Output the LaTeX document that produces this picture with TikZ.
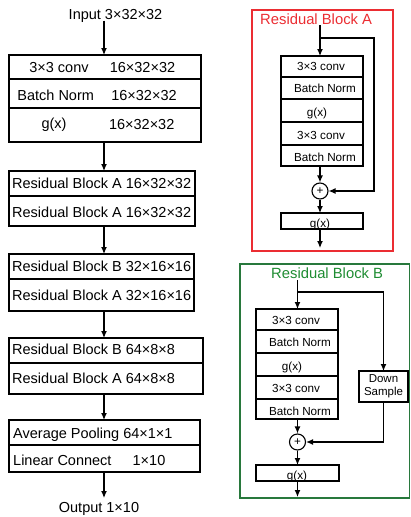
\documentclass[tikz,border=0pt]{standalone}
\usepackage{fontspec}
\setmainfont{Liberation Sans}
\usetikzlibrary{arrows.meta}
\definecolor{redA}{RGB}{235,45,50}
\definecolor{greenB}{RGB}{30,140,50}
\definecolor{greenF}{RGB}{40,120,60}
\newcommand{\bigf}{\fontsize{14.5}{17}\selectfont}
\newcommand{\smallf}{\fontsize{11.7}{13.2}\selectfont}
\newcommand{\titlef}{\fontsize{14.8}{17}\selectfont}
\begin{document}
\begin{tikzpicture}[x=1pt,y=-1pt,
  rowbox/.style={draw, line width=1.2pt, inner sep=0pt, outer sep=0pt, anchor=north west},
  lbl/.style={inner sep=0pt, anchor=base, font=\bigf},
  lbll/.style={inner sep=0pt, anchor=base west, font=\bigf},
  slbl/.style={inner sep=0pt, anchor=base, font=\smallf},
  arr/.style={line width=1.2pt, -{Latex[length=7pt,width=6pt]}},
  plusnode/.style={draw, circle, line width=1.1pt, minimum size=16pt, inner sep=0pt, font=\smallf},
]
\useasboundingbox (0,0) rectangle (411,517);

% ---------------- left column ----------------
\coordinate (colx) at (104,0);
\node[lbl] (inp) at (115.5,19.5) {Input 3×32×32};

\node[rowbox, minimum width=192pt, minimum height=24pt] (c1) at (9,55) {};
\node[rowbox, minimum width=192pt, minimum height=29pt] (c2) at (9,79) {};
\node[rowbox, minimum width=192pt, minimum height=34pt] (c3) at (9,108) {};
\node[lbl] (c1a) at (59,72) {3×3 conv};
\node[lbl] (c1b) at (142.5,72) {16×32×32};
\node[lbl] (c2a) at (55.7,100) {Batch Norm};
\node[lbl] (c2b) at (144,100) {16×32×32};
\node[lbl] (c3a) at (54,128.5) {g(x)};
\node[lbl] (c3b) at (141.7,129) {16×32×32};

\node[rowbox, minimum width=186pt, minimum height=25pt] (r1) at (9,171) {};
\node[rowbox, minimum width=186pt, minimum height=30pt] (r2) at (9,196) {};
\node[lbll] (r1t) at (12,188) {Residual Block A 16×32×32};
\node[lbll] (r2t) at (12,217) {Residual Block A 16×32×32};

\node[rowbox, minimum width=185pt, minimum height=25pt] (r3) at (9,254) {};
\node[rowbox, minimum width=185pt, minimum height=32pt] (r4) at (9,279) {};
\node[lbll] (r3t) at (12,271) {Residual Block B 32×16×16};
\node[lbll] (r4t) at (12,300) {Residual Block A 32×16×16};

\node[rowbox, minimum width=194pt, minimum height=25pt] (r5) at (9,338) {};
\node[rowbox, minimum width=194pt, minimum height=31pt] (r6) at (9,363) {};
\node[lbll] (r5t) at (12,354) {Residual Block B 64×8×8};
\node[lbll] (r6t) at (12,383) {Residual Block A 64×8×8};

\node[rowbox, minimum width=191pt, minimum height=25pt] (p1) at (9,420) {};
\node[rowbox, minimum width=191pt, minimum height=27pt] (p2) at (9,445) {};
\node[lbll] (p1t) at (13,438) {Average Pooling 64×1×1};
\node[lbll] (p2t) at (13,465) {Linear Connect};
\node[lbl] (p2b) at (149,465) {1×10};

\node[lbl] (outp) at (99,512) {Output 1×10};

\draw[arr] (colx |- inp.south) ++(0,-2) -- (colx |- c1.north);
\draw[arr] (colx |- c3.south) -- (colx |- r1.north);
\draw[arr] (colx |- r2.south) -- (colx |- r3.north);
\draw[arr] (colx |- r4.south) -- (colx |- r5.north);
\draw[arr] (colx |- r6.south) -- (colx |- p1.north);
\coordinate (outTop) at (104,498);
\draw[arr] (colx |- p2.south) -- (outTop);

% ---------------- Residual Block A ----------------
\draw[draw=redA, line width=1.3pt] (252,10) rectangle (393,251);
\node[inner sep=0pt, anchor=base west, font=\titlef, text=redA] (tA) at (260,24) {Residual Block A};

\node[rowbox, minimum width=82pt, minimum height=21pt] (a1) at (281,56) {};
\node[rowbox, minimum width=82pt, minimum height=22pt] (a2) at (281,77) {};
\node[rowbox, minimum width=82pt, minimum height=23pt] (a3) at (281,99) {};
\node[rowbox, minimum width=82pt, minimum height=23pt] (a4) at (281,122) {};
\node[rowbox, minimum width=82pt, minimum height=21pt] (a5) at (281,145) {};
\node[slbl] (a1t) at (321,70) {3×3 conv};
\node[slbl] (a2t) at (325,92) {Batch Norm};
\node[slbl] (a3t) at (317,116) {g(x)};
\node[slbl] (a4t) at (321,139) {3×3 conv};
\node[slbl] (a5t) at (325,161) {Batch Norm};

\node[plusnode] (addA) at (320,191) {+};
\node[rowbox, minimum width=82pt, minimum height=16pt] (agx) at (281,213) {};
\node[slbl] (agxt) at (320,227) {g(x)};

\coordinate (aIn) at (320,25);
\coordinate (aBr) at (320,38);
\coordinate (aR) at (374,38);
\coordinate (aOut) at (320,248);
\draw[arr] (aIn) -- (aIn |- a1.north);
\draw[arr] (aBr) -- (aR) |- (addA.east);
\draw[arr] (addA.north |- a5.south) -- (addA.north);
\draw[arr] (addA.south) -- (addA.south |- agx.north);
\draw[arr] (aOut |- agx.south) -- (aOut);

% ---------------- Residual Block B ----------------
\draw[draw=greenF, line width=1.3pt] (240,264) rectangle (409.5,498);
\node[inner sep=0pt, anchor=base west, font=\titlef, text=greenB] (tB) at (271,278) {Residual Block B};

\node[rowbox, minimum width=82pt, minimum height=21pt] (b1) at (256,309) {};
\node[rowbox, minimum width=82pt, minimum height=23pt] (b2) at (256,330) {};
\node[rowbox, minimum width=82pt, minimum height=23pt] (b3) at (256,353) {};
\node[rowbox, minimum width=82pt, minimum height=23pt] (b4) at (256,376) {};
\node[rowbox, minimum width=82pt, minimum height=20pt] (b5) at (256,399) {};
\node[slbl] (b1t) at (296,324) {3×3 conv};
\node[slbl] (b2t) at (300,346) {Batch Norm};
\node[slbl] (b3t) at (292,370) {g(x)};
\node[slbl] (b4t) at (296,392) {3×3 conv};
\node[slbl] (b5t) at (300,415) {Batch Norm};

\node[rowbox, minimum width=49pt, minimum height=31pt, align=center, font=\fontsize{11.5}{13}\selectfont] (ds) at (359,371) {Down\\Sample};

\node[plusnode] (addB) at (297.5,442) {+};
\node[rowbox, minimum width=83pt, minimum height=16pt] (bgx) at (256,465) {};
\node[slbl] (bgxt) at (297,479) {g(x)};

\coordinate (bIn) at (297.5,280);
\coordinate (bBr) at (297.5,292);
\coordinate (bR) at (383.5,292);
\coordinate (bOut) at (297.5,497);
\draw[arr] (bIn) -- (bIn |- b1.north);
\draw[arr] (bBr) -- (bR) -- (bR |- ds.north);
\draw[arr] (ds.south) |- (addB.east);
\draw[arr] (addB.north |- b5.south) -- (addB.north);
\draw[arr] (addB.south) -- (addB.south |- bgx.north);
\draw[arr] (bOut |- bgx.south) -- (bOut);
\end{tikzpicture}
\end{document}
